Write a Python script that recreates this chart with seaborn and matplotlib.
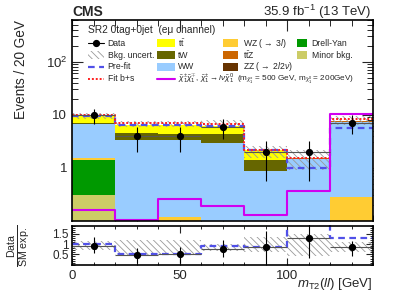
import numpy as np
import matplotlib
matplotlib.use('Agg')
import matplotlib.pyplot as plt
from matplotlib.patches import Rectangle
from matplotlib.lines import Line2D
from matplotlib.ticker import MultipleLocator, NullFormatter, LogLocator
import seaborn as sns

edges = [0, 20, 40, 60, 80, 100, 120, 140]
centers = [10, 30, 50, 70, 90, 110, 130]

# background yields (post-fit), bottom of the stack first
minor_bkg = [0.31, 0, 0, 0, 0, 0, 0]
drell_yan = [1.06, 0, 0, 0, 0, 0, 0]
wz = [0.18, 0, 0.12, 0, 0, 0, 0.28]
ww = [5.0, 3.27, 3.15, 2.91, 0.86, 1.45, 7.0]
zz = [0.05, 0.02, 0.02, 0.02, 0.01, 0.03, 0.05]
ttz = [0.05, 0.03, 0.03, 0.03, 0.01, 0.02, 0.1]
tw = [0.35, 1.1, 1.0, 1.43, 0.5, 0.03, 0.1]
ttbar = [2.4, 2.1, 2.2, 1.6, 0.8, 0.02, 0.07]

unc_lo = [8.4, 5.8, 5.8, 5.6, 1.5, 0.9, 6.3]
unc_hi = [10.6, 7.6, 7.6, 8.0, 2.6, 2.2, 9.6]

prefit = [9.6, 6.5, 6.5, 6.1, 2.2, 0.97, 5.7]
fit_bs = [10.0, 6.95, 6.95, 6.8, 2.2, 1.54, 8.4]
signal = [0.16, 0.105, 0.255, 0.186, 0.126, 0.37, 10.4]

data = [9.8, 3.9, 3.9, 5.9, 1.95, 1.95, 6.9]
data_lo = [3.0, 1.9, 1.9, 2.4, 1.4, 1.4, 2.5]
data_hi = [3.2, 1.9, 1.9, 2.5, 1.3, 1.3, 2.8]

# ratio panel
ratio = [0.93, 0.45, 0.51, 0.78, 0.87, 1.29, 0.86]
ratio_lo = [0.55, 0.08, 0.08, 0.39, 0.05, 0.32, 0.43]
ratio_hi = [1.32, 0.80, 0.84, 1.20, 1.65, 2.0, 1.16]
ratio_prefit = [0.99, 0.51, 0.51, 0.93, 0.85, 1.95, 1.3]
ratio_band_lo = [0.70, 0.46, 0.54, 0.64, 0.63, 0.43, 0.63]
ratio_band_hi = [1.16, 1.20, 1.20, 1.02, 1.32, 1.50, 1.08]

names = ['Minor bkg.', 'Drell-Yan', 'WZ', 'WW', 'ZZ', 'ttZ', 'tW', 'ttbar']
yields = [minor_bkg, drell_yan, wz, ww, zz, ttz, tw, ttbar]
colors = ['#cccc66', '#009900', '#ffcc33', '#99ccff', '#663300', '#cc6600', '#666600', '#ffff00']

sns.set_style('ticks')
plt.rcParams['font.family'] = ['Liberation Sans', 'DejaVu Sans']
plt.rcParams['mathtext.fontset'] = 'custom'
plt.rcParams['mathtext.rm'] = 'Liberation Sans'
plt.rcParams['mathtext.it'] = 'Liberation Sans:italic'
plt.rcParams['mathtext.bf'] = 'Liberation Sans:bold'
plt.rcParams['hatch.linewidth'] = 0.6

W, H = 399, 301
fig = plt.figure(figsize=(W / 100, H / 100), dpi=100)
ax = fig.add_axes([72 / W, 1 - 220.7 / H, 301 / W, 200.7 / H])
axr = fig.add_axes([72 / W, 1 - 264.7 / H, 301 / W, 39.2 / H])

# stacked backgrounds, drawn as cumulative layers from the top down
cum = np.cumsum(np.array(yields), axis=0)
for k in range(len(names) - 1, -1, -1):
    sns.histplot(x=centers, weights=cum[k], bins=edges, element='step', fill=True,
                 color=colors[k], alpha=1, linewidth=0, ax=ax)

unc_h = np.array(unc_hi) - np.array(unc_lo)
ax.bar(centers, unc_h, bottom=unc_lo, width=20, fill=False, hatch='\\\\\\\\\\',
       edgecolor='#999999', linewidth=0)

step_x = edges
sns.lineplot(x=step_x, y=prefit + [prefit[-1]], drawstyle='steps-post', color='#5050e8',
             linestyle=(0, (3, 2)), linewidth=1.6, ax=ax, legend=False)
sns.lineplot(x=step_x, y=fit_bs + [fit_bs[-1]], drawstyle='steps-post', color='#ff2020',
             linestyle=(0, (1, 1)), linewidth=1.4, ax=ax, legend=False)
sns.histplot(x=centers, weights=signal, bins=edges, element='step', fill=False,
             color='#d000f0', linewidth=1.5, ax=ax)

ax.errorbar(centers, data, xerr=10, fmt='none', ecolor='#555555', elinewidth=0.8)
ax.errorbar(centers, data, yerr=[data_lo, data_hi], fmt='o', color='k', ms=4.2,
            elinewidth=0.8, capsize=0)

ax.set_yscale('log')
ax.set_xlim(0, 140)
ax.set_ylim(0.1, 610)
ax.set_yticks([1, 10, 100])
ax.set_yticklabels(['1', '10', '$10^2$'])
ax.yaxis.set_minor_locator(LogLocator(base=10, subs=np.arange(2, 10)))
ax.yaxis.set_minor_formatter(NullFormatter())
ax.xaxis.set_major_locator(MultipleLocator(50))
ax.xaxis.set_minor_locator(MultipleLocator(10))
ax.set_xticklabels([])
ax.set_xlabel('')
ax.set_ylabel('Events / 20 GeV', fontsize=9.8, loc='top')
ax.yaxis.set_label_coords(-0.145, 1.0)

# ratio panel
rb = np.array(ratio_band_hi) - np.array(ratio_band_lo)
axr.bar(centers, rb, bottom=ratio_band_lo, width=20, fill=False, hatch='\\\\\\\\\\',
        edgecolor='#999999', linewidth=0)
sns.lineplot(x=step_x, y=ratio_prefit + [ratio_prefit[-1]], drawstyle='steps-post',
             color='#5050e8', linestyle=(0, (3, 2)), linewidth=1.6, ax=axr, legend=False)
r_lo = np.array(ratio) - np.array(ratio_lo)
r_hi = np.array(ratio_hi) - np.array(ratio)
axr.errorbar(centers, ratio, xerr=10, fmt='none', ecolor='#555555', elinewidth=0.8)
axr.errorbar(centers, ratio, yerr=[r_lo, r_hi], fmt='o', color='k', ms=4.2,
             elinewidth=0.8, capsize=0)
axr.set_xlim(0, 140)
axr.set_ylim(0, 1.9)
axr.set_yticks([0.5, 1, 1.5])
axr.set_yticklabels(['0.5', '1', '1.5'])
axr.yaxis.set_minor_locator(MultipleLocator(0.1))
axr.xaxis.set_major_locator(MultipleLocator(50))
axr.xaxis.set_minor_locator(MultipleLocator(10))
axr.set_ylabel(r'$\frac{\mathrm{Data}}{\mathrm{SM\ exp.}}$', fontsize=11)
axr.yaxis.set_label_coords(-0.13, 0.5)
axr.set_xlabel(r'$m_{\mathrm{T2}}(ll)$ [GeV]', fontsize=9.5, loc='right')
axr.xaxis.set_label_coords(1.0, -0.3)

for a in (ax, axr):
    a.tick_params(which='both', direction='in', top=True, right=True, labelsize=9.5)
    a.tick_params(which='major', length=8, width=0.8)
    a.tick_params(which='minor', length=4, width=0.7)
    for s in a.spines.values():
        s.set_linewidth(1.2)
        s.set_color('k')
axr.tick_params(which='major', length=5)
axr.tick_params(which='minor', length=2.5)
axr.tick_params(axis='y', labelsize=8.5, pad=2.5)

fig.text(72 / W, 1 - 12 / H, 'CMS', fontsize=10, fontweight='bold', va='center', ha='left')
fig.text(371 / W, 1 - 12 / H, r'35.9 fb$^{-1}$ (13 TeV)', fontsize=9.5, va='center', ha='right')
fig.text(88 / W, 1 - 30 / H, 'SR2 0tag+0jet  (eμ channel)', fontsize=7.3, va='center', ha='left')


def fx(x):
    return x / W


def fy(y):
    return 1 - y / H


def patch_entry(x0, x1, yc, label, xt, size=6.2, **kw):
    fig.add_artist(Rectangle((fx(x0), fy(yc + 4)), (x1 - x0) / W, 8 / H,
                             transform=fig.transFigure, **kw))
    fig.text(fx(xt), fy(yc), label, fontsize=size, va='center', ha='left')


def line_entry(x0, x1, yc, label, xt, size=6.2, **kw):
    fig.add_artist(Line2D([fx(x0), fx(x1)], [fy(yc), fy(yc)], transform=fig.transFigure, **kw))
    fig.text(fx(xt), fy(yc), label, fontsize=size, va='center', ha='left')


rows = [43.3, 55.0, 66.7, 78.7]
line_entry(88, 104, rows[0], 'Data', 107.5, color='k', lw=0.8)
fig.add_artist(Line2D([fx(96)], [fy(rows[0])], transform=fig.transFigure, color='k',
                      marker='o', ms=4.2))
patch_entry(88, 104, rows[1], 'Bkg. uncert.', 107.5, fill=False, hatch='\\\\\\\\\\',
            edgecolor='#999999', linewidth=0)
line_entry(88, 104, rows[2], 'Pre-fit', 107.5, color='#5050e8', lw=1.6, ls=(0, (3, 2)))
line_entry(88, 104, rows[3], 'Fit b+s', 107.5, color='#ff2020', lw=1.4, ls=(0, (1, 1)))

patch_entry(157, 175, rows[0], r't$\bar{\mathrm{t}}$', 177.5, facecolor=colors[7], linewidth=0)
patch_entry(157, 175, rows[1], 'tW', 177.5, facecolor=colors[6], linewidth=0)
patch_entry(157, 175, rows[2], 'WW', 177.5, facecolor=colors[3], linewidth=0)
line_entry(157, 175, rows[3] + 0.5,
           r'$\tilde{\chi}^{\pm}_{1}\tilde{\chi}^{\mp}_{1}$, $\tilde{\chi}^{\pm}_{1}\rightarrow l\nu\tilde{\chi}^{0}_{1}$'
           r'  (m$_{\tilde{\chi}^{\pm}_{1}}$ = 500 GeV, m$_{\tilde{\chi}^{0}_{1}}$ = 200GeV)',
           177.5, size=5.9, color='#d000f0', lw=1.5)

patch_entry(223, 238, rows[0], r'WZ ($\rightarrow$ 3$l$)', 243, facecolor=colors[2], linewidth=0)
patch_entry(223, 238, rows[1], r't$\bar{\mathrm{t}}$Z', 243, facecolor=colors[5], linewidth=0)
patch_entry(223, 238, rows[2], r'ZZ ($\rightarrow$ 2$l$2$\nu$)', 243, facecolor=colors[4], linewidth=0)

patch_entry(297, 307, rows[0], 'Drell-Yan', 311.5, facecolor=colors[1], linewidth=0)
patch_entry(297, 307, rows[1], 'Minor bkg.', 311.5, facecolor=colors[0], linewidth=0)

fig.savefig('out.png', dpi=100)
